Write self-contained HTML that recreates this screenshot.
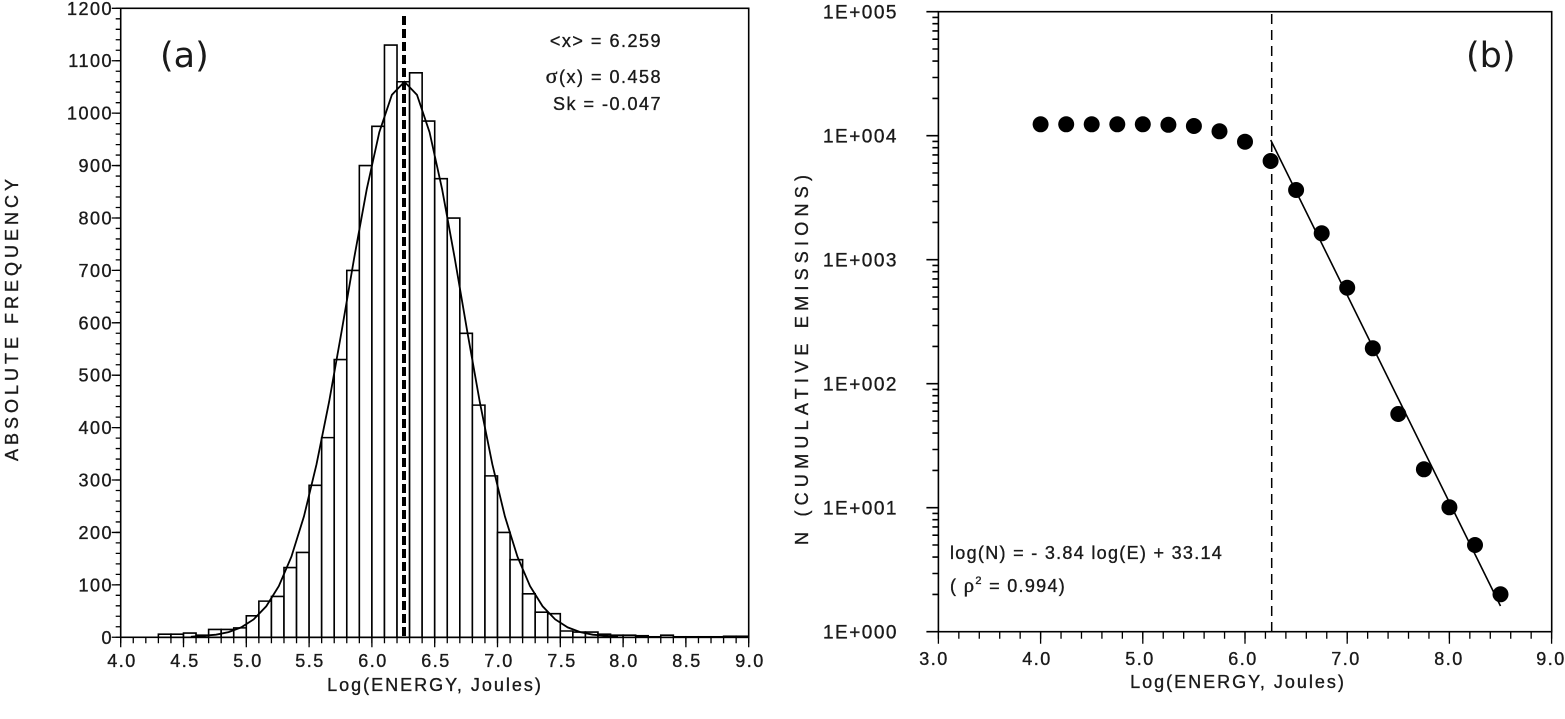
<!DOCTYPE html>
<html><head><meta charset="utf-8"><style>
html,body{margin:0;padding:0;background:#fff;}
svg{display:block;}
text{font-family:"Liberation Sans",Arial,sans-serif;fill:#1a1a1a;stroke:#1a1a1a;stroke-width:0.35;}
</style></head><body>
<svg width="1565" height="719" viewBox="0 0 1565 719" xmlns="http://www.w3.org/2000/svg">
<!-- ========== PANEL A ========== -->
<g fill="none" stroke="#000">
 <g transform="translate(120.7,637.3) scale(125.6,-0.5241)" fill="#fff" stroke="#000" stroke-width="1.6">
  <rect vector-effect="non-scaling-stroke" x="0.3" y="0" width="0.1" height="6"/>
  <rect vector-effect="non-scaling-stroke" x="0.4" y="0" width="0.1" height="6"/>
  <rect vector-effect="non-scaling-stroke" x="0.5" y="0" width="0.1" height="8"/>
  <rect vector-effect="non-scaling-stroke" x="0.6" y="0" width="0.1" height="4"/>
  <rect vector-effect="non-scaling-stroke" x="0.7" y="0" width="0.1" height="15"/>
  <rect vector-effect="non-scaling-stroke" x="0.8" y="0" width="0.1" height="15"/>
  <rect vector-effect="non-scaling-stroke" x="0.9" y="0" width="0.1" height="18"/>
  <rect vector-effect="non-scaling-stroke" x="1.0" y="0" width="0.1" height="41"/>
  <rect vector-effect="non-scaling-stroke" x="1.1" y="0" width="0.1" height="69"/>
  <rect vector-effect="non-scaling-stroke" x="1.2" y="0" width="0.1" height="78"/>
  <rect vector-effect="non-scaling-stroke" x="1.3" y="0" width="0.1" height="133"/>
  <rect vector-effect="non-scaling-stroke" x="1.4" y="0" width="0.1" height="162"/>
  <rect vector-effect="non-scaling-stroke" x="1.5" y="0" width="0.1" height="290"/>
  <rect vector-effect="non-scaling-stroke" x="1.6" y="0" width="0.1" height="381"/>
  <rect vector-effect="non-scaling-stroke" x="1.7" y="0" width="0.1" height="530"/>
  <rect vector-effect="non-scaling-stroke" x="1.8" y="0" width="0.1" height="700"/>
  <rect vector-effect="non-scaling-stroke" x="1.9" y="0" width="0.1" height="900"/>
  <rect vector-effect="non-scaling-stroke" x="2.0" y="0" width="0.1" height="975"/>
  <rect vector-effect="non-scaling-stroke" x="2.1" y="0" width="0.1" height="1130"/>
  <rect vector-effect="non-scaling-stroke" x="2.2" y="0" width="0.1" height="1060"/>
  <rect vector-effect="non-scaling-stroke" x="2.3" y="0" width="0.1" height="1077"/>
  <rect vector-effect="non-scaling-stroke" x="2.4" y="0" width="0.1" height="985"/>
  <rect vector-effect="non-scaling-stroke" x="2.5" y="0" width="0.1" height="875"/>
  <rect vector-effect="non-scaling-stroke" x="2.6" y="0" width="0.1" height="800"/>
  <rect vector-effect="non-scaling-stroke" x="2.7" y="0" width="0.1" height="580"/>
  <rect vector-effect="non-scaling-stroke" x="2.8" y="0" width="0.1" height="443"/>
  <rect vector-effect="non-scaling-stroke" x="2.9" y="0" width="0.1" height="308"/>
  <rect vector-effect="non-scaling-stroke" x="3.0" y="0" width="0.1" height="200"/>
  <rect vector-effect="non-scaling-stroke" x="3.1" y="0" width="0.1" height="148"/>
  <rect vector-effect="non-scaling-stroke" x="3.2" y="0" width="0.1" height="83"/>
  <rect vector-effect="non-scaling-stroke" x="3.3" y="0" width="0.1" height="48"/>
  <rect vector-effect="non-scaling-stroke" x="3.4" y="0" width="0.1" height="45"/>
  <rect vector-effect="non-scaling-stroke" x="3.5" y="0" width="0.1" height="12"/>
  <rect vector-effect="non-scaling-stroke" x="3.6" y="0" width="0.1" height="10"/>
  <rect vector-effect="non-scaling-stroke" x="3.7" y="0" width="0.1" height="10"/>
  <rect vector-effect="non-scaling-stroke" x="3.8" y="0" width="0.1" height="6"/>
  <rect vector-effect="non-scaling-stroke" x="3.9" y="0" width="0.1" height="4"/>
  <rect vector-effect="non-scaling-stroke" x="4.0" y="0" width="0.1" height="4"/>
  <rect vector-effect="non-scaling-stroke" x="4.1" y="0" width="0.1" height="3"/>
  <rect vector-effect="non-scaling-stroke" x="4.2" y="0" width="0.1" height="1"/>
  <rect vector-effect="non-scaling-stroke" x="4.3" y="0" width="0.1" height="4"/>
  <rect vector-effect="non-scaling-stroke" x="4.4" y="0" width="0.1" height="1"/>
  <rect vector-effect="non-scaling-stroke" x="4.5" y="0" width="0.1" height="1"/>
  <rect vector-effect="non-scaling-stroke" x="4.6" y="0" width="0.1" height="1"/>
  <rect vector-effect="non-scaling-stroke" x="4.7" y="0" width="0.1" height="1"/>
  <rect vector-effect="non-scaling-stroke" x="4.8" y="0" width="0.1" height="2"/>
  <rect vector-effect="non-scaling-stroke" x="4.9" y="0" width="0.1" height="2"/>
  <polyline vector-effect="non-scaling-stroke" fill="none" stroke="#000" stroke-width="1.8" points="0.559,1.1 0.759,5.0 0.859,9.9 0.959,18.9 1.059,34.3 1.159,59.2 1.259,97.7 1.359,153.7 1.459,230.6 1.559,330 1.659,449 1.759,584 1.859,724 1.959,855 2.059,963.7 2.159,1035 2.259,1060 2.359,1035 2.459,963.7 2.559,855 2.659,724 2.759,584 2.859,449 2.959,330 3.059,230.6 3.159,153.7 3.259,97.7 3.359,59.2 3.459,34.3 3.559,18.9 3.659,9.9 3.759,5.0 3.959,1.1"/>
 </g>
 <line x1="404" y1="16" x2="404" y2="637" stroke="#000" stroke-width="4" stroke-dasharray="9 4"/>
 <rect x="120.7" y="8.3" width="628" height="629" stroke="#000" stroke-width="1.6"/>
 <line x1="118.2" y1="637.9" x2="118.2" y2="7" stroke="#000" stroke-width="5" stroke-dasharray="1.3 9.182"/>
 <line x1="116.2" y1="637.9" x2="116.2" y2="7" stroke="#000" stroke-width="9" stroke-dasharray="1.3 51.11"/>
 <line x1="120.05" y1="640.3" x2="750" y2="640.3" stroke="#000" stroke-width="6" stroke-dasharray="1.3 11.26"/>
 <line x1="120.05" y1="642.3" x2="750" y2="642.3" stroke="#000" stroke-width="10" stroke-dasharray="1.3 61.5"/>
</g>
<g font-size="18" letter-spacing="1.5" text-anchor="end">
 <text x="113" y="643.8">0</text>
 <text x="113" y="591.4">100</text>
 <text x="113" y="539.0">200</text>
 <text x="113" y="486.5">300</text>
 <text x="113" y="434.1">400</text>
 <text x="113" y="381.7">500</text>
 <text x="113" y="329.3">600</text>
 <text x="113" y="276.9">700</text>
 <text x="113" y="224.5">800</text>
 <text x="113" y="172.1">900</text>
 <text x="113" y="119.7">1000</text>
 <text x="113" y="67.2">1100</text>
 <text x="113" y="14.8">1200</text>
</g>
<g font-size="18" letter-spacing="1.5" text-anchor="middle">
 <text x="122" y="667">4.0</text>
 <text x="185" y="667">4.5</text>
 <text x="248" y="667">5.0</text>
 <text x="310" y="667">5.5</text>
 <text x="373" y="667">6.0</text>
 <text x="436" y="667">6.5</text>
 <text x="499" y="667">7.0</text>
 <text x="562" y="667">7.5</text>
 <text x="624" y="667">8.0</text>
 <text x="687" y="667">8.5</text>
 <text x="750" y="667">9.0</text>
</g>
<text x="435" y="691" font-size="18" letter-spacing="2" text-anchor="middle">Log(ENERGY, Joules)</text>
<text transform="translate(18,320) rotate(-90)" font-size="18" text-anchor="middle" textLength="282" lengthAdjust="spacing">ABSOLUTE FREQUENCY</text>
<text x="160" y="67" font-size="35" style="font-family:'DejaVu Sans',sans-serif;stroke:none">(a)</text>
<g font-size="18" letter-spacing="1.5" text-anchor="end">
 <text x="662" y="47">&lt;x&gt; = 6.259</text>
 <text x="662" y="83"><tspan style="font-family:'Liberation Serif',serif" font-size="22">σ</tspan>(x) =  0.458</text>
 <text x="662" y="110">Sk = -0.047</text>
</g>

<!-- ========== PANEL B ========== -->
<g fill="none" stroke="#000">
 <line x1="1271.7" y1="14" x2="1271.7" y2="631" stroke-width="1.5" stroke-dasharray="10 6"/>
 <rect x="938.4" y="11.7" width="613.3" height="620" stroke-width="1.6"/>
 <path stroke-width="1.6" d="M926.4,631.7h12M926.4,507.7h12M926.4,383.7h12M926.4,259.7h12M926.4,135.7h12M926.4,11.7h12
 M932.4,594.4h6M932.4,573.5h6M932.4,557.1h6M932.4,545h6M932.4,535.2h6M932.4,526.9h6M932.4,519.7h6M932.4,513.4h6
 M932.4,470.4h6M932.4,449.5h6M932.4,433.1h6M932.4,421h6M932.4,411.2h6M932.4,402.9h6M932.4,395.7h6M932.4,389.4h6
 M932.4,346.4h6M932.4,325.5h6M932.4,309.1h6M932.4,297h6M932.4,287.2h6M932.4,278.9h6M932.4,271.7h6M932.4,265.4h6
 M932.4,222.4h6M932.4,201.5h6M932.4,185.1h6M932.4,173h6M932.4,163.2h6M932.4,154.9h6M932.4,147.7h6M932.4,141.4h6
 M932.4,98.4h6M932.4,77.5h6M932.4,61.1h6M932.4,49h6M932.4,39.2h6M932.4,30.9h6M932.4,23.7h6M932.4,17.4h6"/>
 <line x1="937.75" y1="635.2" x2="1553" y2="635.2" stroke-width="7" stroke-dasharray="1.3 19.14"/>
 <line x1="937.75" y1="637.7" x2="1553" y2="637.7" stroke-width="12" stroke-dasharray="1.3 100.9"/>
 <line x1="1270.7" y1="140" x2="1500.5" y2="606" stroke-width="1.6"/>
</g>
<g fill="#000">
 <circle cx="1040.6" cy="124.3" r="8"/>
 <circle cx="1066.2" cy="124.3" r="8"/>
 <circle cx="1091.7" cy="124.3" r="8"/>
 <circle cx="1117.3" cy="124.3" r="8"/>
 <circle cx="1142.8" cy="124.3" r="8"/>
 <circle cx="1168.4" cy="124.8" r="8"/>
 <circle cx="1193.9" cy="126" r="8"/>
 <circle cx="1219.5" cy="131.3" r="8"/>
 <circle cx="1245" cy="141.7" r="8"/>
 <circle cx="1270.6" cy="161" r="8"/>
 <circle cx="1296.1" cy="190" r="8"/>
 <circle cx="1321.7" cy="233.3" r="8"/>
 <circle cx="1347.2" cy="287.7" r="8"/>
 <circle cx="1372.8" cy="348.3" r="8"/>
 <circle cx="1398.3" cy="414" r="8"/>
 <circle cx="1423.9" cy="469.3" r="8"/>
 <circle cx="1449.4" cy="507.3" r="8"/>
 <circle cx="1475" cy="545" r="8"/>
 <circle cx="1500.5" cy="594.3" r="8"/>
</g>
<g font-size="19" letter-spacing="1.5" text-anchor="end">
 <text x="898" y="638.5">1E+000</text>
 <text x="898" y="514.5">1E+001</text>
 <text x="898" y="390.5">1E+002</text>
 <text x="898" y="266.5">1E+003</text>
 <text x="898" y="142.5">1E+004</text>
 <text x="898" y="18.5">1E+005</text>
</g>
<g font-size="18" letter-spacing="1.5" text-anchor="middle">
 <text x="934" y="665">3.0</text>
 <text x="1037" y="665">4.0</text>
 <text x="1140" y="665">5.0</text>
 <text x="1243" y="665">6.0</text>
 <text x="1346" y="665">7.0</text>
 <text x="1449" y="665">8.0</text>
 <text x="1551" y="665">9.0</text>
</g>
<text x="1238" y="688" font-size="18" letter-spacing="2" text-anchor="middle">Log(ENERGY, Joules)</text>
<text transform="translate(808,360) rotate(-90)" font-size="18" text-anchor="middle" textLength="370" lengthAdjust="spacing">N (CUMULATIVE EMISSIONS)</text>
<text x="1466" y="67" font-size="35" style="font-family:'DejaVu Sans',sans-serif;stroke:none">(b)</text>
<g font-size="18" letter-spacing="1.3">
 <text x="950" y="559">log(N) = - 3.84 log(E) + 33.14</text>
 <text x="950" y="592">( <tspan style="font-family:'Liberation Serif',serif" font-size="21">ρ</tspan><tspan font-size="11" dy="-8">2</tspan><tspan dy="8"> = 0.994)</tspan></text>
</g>
</svg>
</body></html>
